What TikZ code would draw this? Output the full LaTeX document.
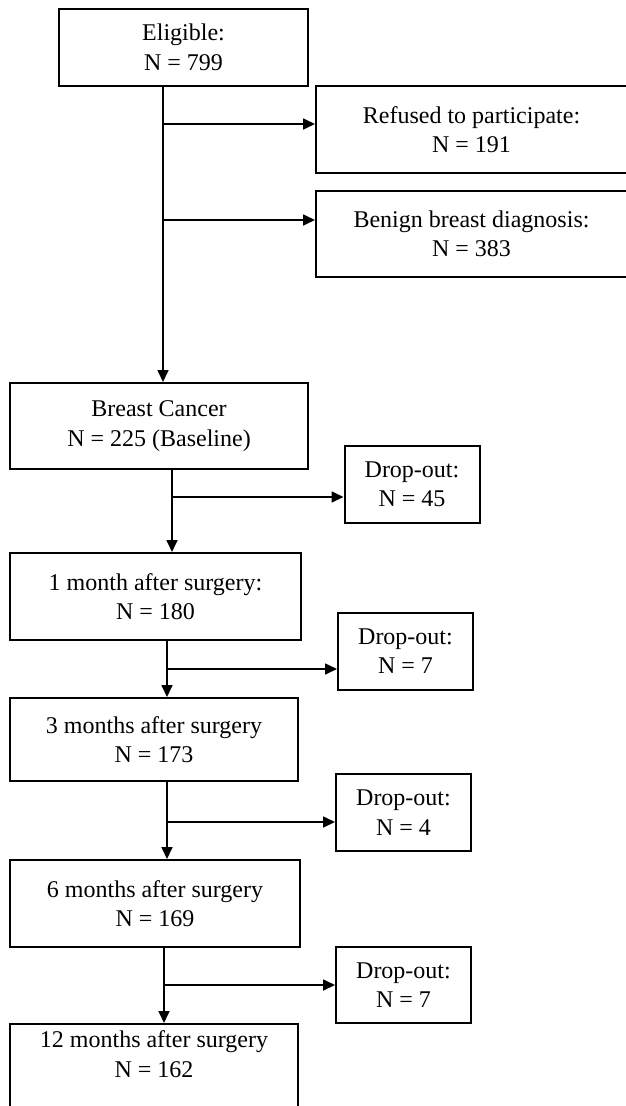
\documentclass[tikz,border=0pt]{standalone}
\usepackage{fontspec}
\setmainfont{Liberation Serif}
\usetikzlibrary{arrows.meta}

\begin{document}
\begin{tikzpicture}[
  x=1pt, y=-1pt,
  box/.style={draw, line width=2pt, align=center, inner sep=0pt, font=\fontsize{24pt}{29.5pt}\selectfont},
  dropbox/.style={box, minimum width=135pt, minimum height=77pt},
  arrow/.style={-{Triangle[length=12pt, width=11pt]}, line width=1.7pt}
]
\useasboundingbox (0,0) rectangle (625,1106);

\node[box, minimum width=249pt, minimum height=77pt] (eligible) at (183.5,47.5) {Eligible:\\N = 799};
\node[box, minimum width=311pt, minimum height=87pt] (refused) at (471.5,129.5) {Refused to participate:\\N = 191};
\node[box, minimum width=311pt, minimum height=86pt] (benign) at (471.5,234) {Benign breast diagnosis:\\N = 383};

\node[box, minimum width=298pt, minimum height=86pt] (cancer) at (159,426) {Breast Cancer\\N = 225 (Baseline)};
\node[dropbox] (drop1) at (412,484.5) {Drop-out:\\N = 45};
\node[box, minimum width=291pt, minimum height=87pt] (onemonth) at (155.5,596.5) {1 month after surgery:\\N = 180};
\node[dropbox] (drop2) at (405.5,651) {Drop-out:\\N = 7};
\node[box, minimum width=288pt, minimum height=83pt] (threemonths) at (154,739.5) {3 months after surgery\\N = 173};
\node[dropbox] (drop3) at (403.5,812.5) {Drop-out:\\N = 4};
\node[box, minimum width=290pt, minimum height=87pt] (sixmonths) at (155,903.5) {6 months after surgery\\N = 169};
\node[dropbox, minimum height=76pt] (drop4) at (403.5,985) {Drop-out:\\N = 7};
\node[box, anchor=north, inner ysep=7pt] (twelvemonths) at (154,1023)
  {\parbox[t][100pt][t]{288pt}{\centering 12 months after surgery\\N = 162}};

% branch points on the main line
\coordinate (s1) at (163,124);
\coordinate (s2) at (163,220);
\coordinate (b1) at (172,497);
\coordinate (b2) at (167,669);
\coordinate (b3) at (167,822);
\coordinate (b4) at (164,985);

\draw[arrow] (eligible.south -| s1) -- (cancer.north -| s1);
\draw[arrow] (s1) -- (s1 -| refused.west);
\draw[arrow] (s2) -- (s2 -| benign.west);

\draw[arrow] (cancer.south -| b1) -- (onemonth.north -| b1);
\draw[arrow] (b1) -- (b1 -| drop1.west);
\draw[arrow] (onemonth.south -| b2) -- (threemonths.north -| b2);
\draw[arrow] (b2) -- (b2 -| drop2.west);
\draw[arrow] (threemonths.south -| b3) -- (sixmonths.north -| b3);
\draw[arrow] (b3) -- (b3 -| drop3.west);
\draw[arrow] (sixmonths.south -| b4) -- (twelvemonths.north -| b4);
\draw[arrow] (b4) -- (b4 -| drop4.west);
\end{tikzpicture}
\end{document}
